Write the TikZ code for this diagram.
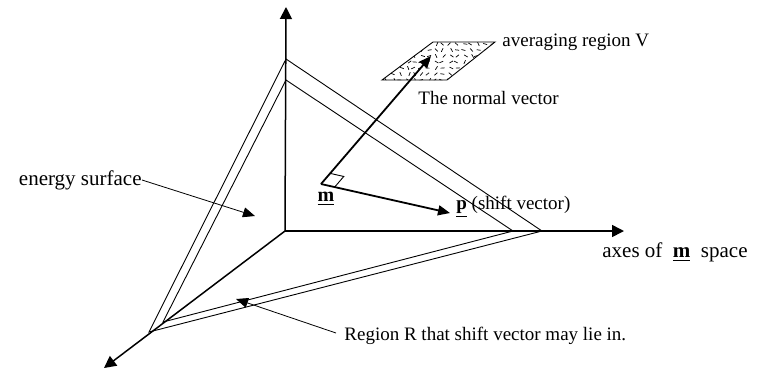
\documentclass[tikz,border=0pt]{standalone}
\usepackage{fontspec}
\setmainfont{Liberation Serif}
\usetikzlibrary{calc,arrows.meta}
\newcommand{\bvec}[1]{\underline{\textbf{#1}}}

\begin{document}
\begin{tikzpicture}[x=0.5pt,y=-0.5pt,
    axis/.style={line width=0.75pt,-{Triangle[length=6pt,width=6pt]}},
    vecarrow/.style={line width=0.9pt,-{Triangle[length=6pt,width=5pt]}},
    pointer/.style={line width=0.4pt,-{Triangle[length=6pt,width=5pt]}},
    edge/.style={line width=0.45pt},
    lbl/.style={font=\fontsize{9.5}{11}\selectfont,inner sep=0pt,anchor=west}]
    \useasboundingbox (0,0) rectangle (760,371);
    % axes
    \coordinate (O) at (285,231);
    \coordinate (up) at (286,7);
    \coordinate (right) at (624,231);
    \coordinate (down) at (104,368);
    \draw[axis] (O) -- (up);
    \draw[axis] (O) -- (right);
    \draw[axis] (O) -- (down);
    % energy surface, outer and inner triangle
    \coordinate (otop) at (286,59);
    \coordinate (oright) at (542,231);
    \coordinate (oleft) at (149,332);
    \coordinate (itop) at (286,80);
    \coordinate (iright) at (513,231);
    \coordinate (ileft) at (163,322);
    \draw[edge] (otop) -- (oright) -- (oleft) -- cycle;
    \draw[edge] (itop) -- (iright) -- (ileft) -- cycle;
    % vectors
    \coordinate (m) at (321,184);
    \coordinate (ntip) at (431,56);
    \coordinate (ptip) at (450,213);
    \draw[vecarrow] (m) -- (ntip);
    \draw[vecarrow] (m) -- (ptip);
    \coordinate (ra1) at ($(m)!7pt!(ntip)$);
    \coordinate (ra2) at ($(m)!7pt!(ptip)$);
    \draw[edge] (ra1) -- ($(ra1)+(ra2)-(m)$) -- (ra2);
    % averaging region
    \coordinate (v1) at (382,80);
    \coordinate (v2) at (433,42);
    \coordinate (v3) at (495,42);
    \coordinate (v4) at (447,80);
    \begin{scope}
        \clip (v1) -- (v2) -- (v3) -- (v4) -- cycle;
        \pgfmathsetseed{7}
        \foreach \gx in {380,387,...,495} {
            \foreach \gy in {44,50,...,80} {
                \pgfmathsetmacro{\dx}{rand*2}
                \pgfmathsetmacro{\ang}{rand*70}
                \draw[line width=0.35pt] ($(\gx+\dx,\gy)+(\ang:2)$) -- ($(\gx+\dx,\gy)+(\ang+180:2)$);
            }
        }
    \end{scope}
    \draw[edge] (v1) -- (v2) -- (v3) -- (v4) -- cycle;
    % labels
    \node[lbl] (avg) at (502,42) {averaging region V};
    \node[lbl] (normal) at (418,98) {The normal vector};
    \node[lbl,anchor=east,font=\fontsize{10.5}{12}\selectfont] (energy) at (142,180) {energy surface};
    \node[inner sep=0pt,font=\fontsize{10}{11}\selectfont] (mlbl) at (326,199) {\bvec{m}};
    \node[lbl] (shift) at (456,207) {\bvec{p} (shift vector)};
    \node[lbl,font=\fontsize{10.5}{12}\selectfont] (axes) at (602,252) {axes of\ \ \bvec{m}\ \ space};
    \node[lbl] (region) at (344,336) {Region R that shift vector may lie in.};
    \coordinate (etip) at (255,216);
    \coordinate (rtip) at (236,299);
    \draw[pointer] (energy.east) -- (etip);
    \draw[pointer] (region.west) ++(-8,-3) coordinate (rstart) -- (rtip);
\end{tikzpicture}
\end{document}
